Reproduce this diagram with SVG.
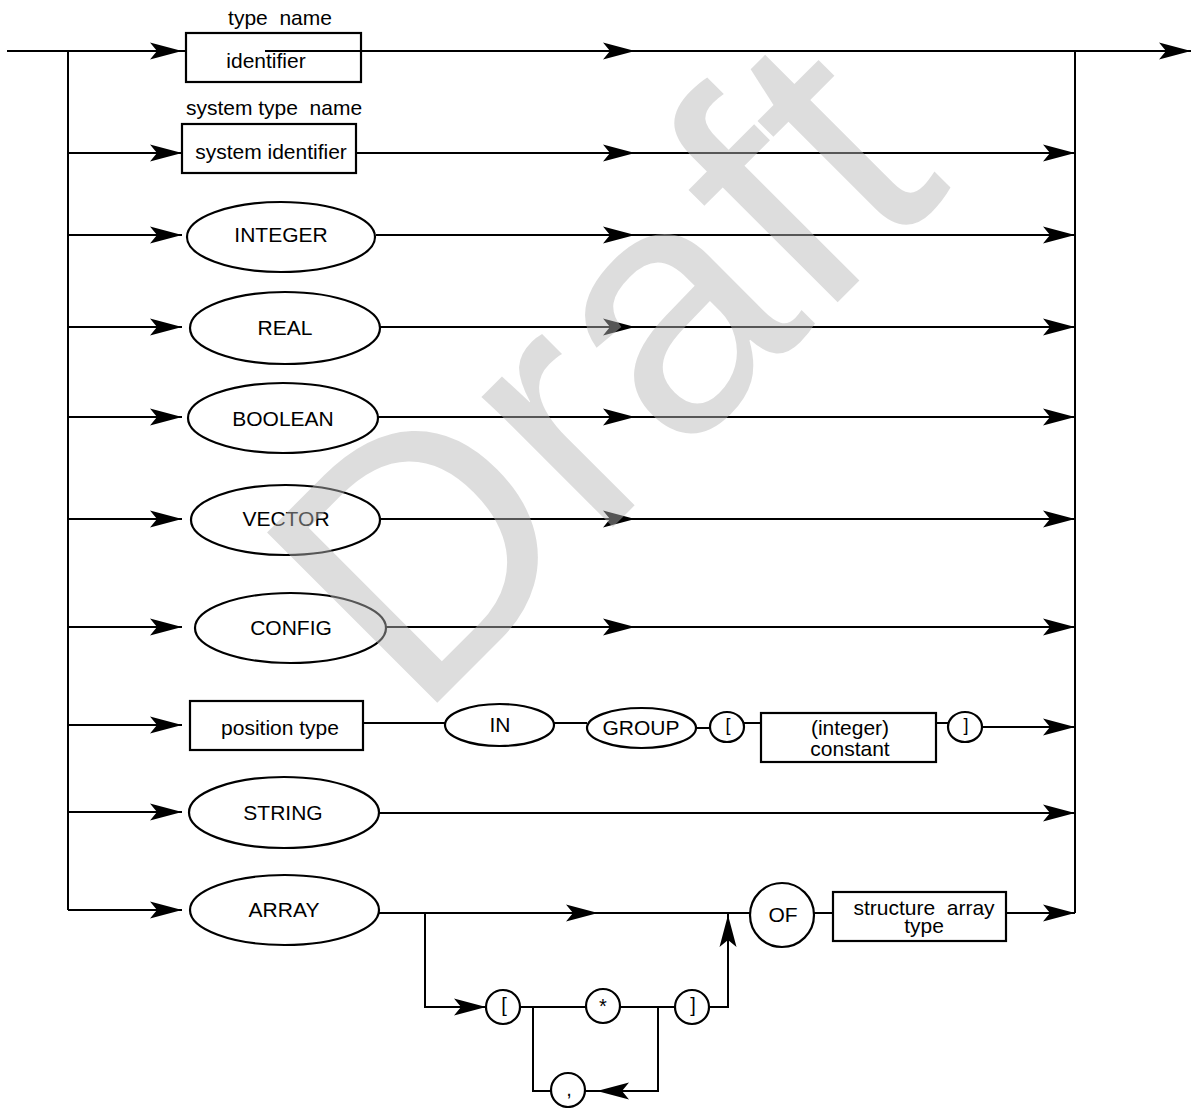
<svg xmlns="http://www.w3.org/2000/svg" width="1191" height="1108" viewBox="0 0 1191 1108">
<style>
.ln{stroke:#000;stroke-width:2;fill:none}
.nd{stroke:#000;stroke-width:2.2;fill:#fff}
.t{font-family:"Liberation Sans",Arial,sans-serif;font-size:21px;text-anchor:middle;fill:#000}
.s{font-family:"Liberation Sans",Arial,sans-serif;font-size:18px;text-anchor:middle;fill:#000}
.wm{font-family:"Liberation Sans",Arial,sans-serif;font-size:350px;fill:#b6b6b6;fill-opacity:0.47}
</style>
<defs>
<path id="ah" d="M0,0 L-32,-8.5 L-25,0 L-32,8.5 Z" fill="#000"/>
</defs>
<rect width="1191" height="1108" fill="#fff"/>
<g id="connectors">
<path class="ln" d="M7,51 H186"/>
<path class="ln" d="M68,51 V910"/>
<path class="ln" d="M1075,51 V913"/>
<path class="ln" d="M68,153 H182 M68,235 H182 M68,327 H182 M68,417 H182 M68,519 H182 M68,627 H182 M68,725 H182 M68,812 H182 M68,910 H182"/>
<path class="ln" d="M265,51 H1191"/>
<path class="ln" d="M356,153 H1075"/>
<path class="ln" d="M376,235 H1075"/>
<path class="ln" d="M380,327 H1075"/>
<path class="ln" d="M378,417 H1075"/>
<path class="ln" d="M380,519 H1075"/>
<path class="ln" d="M386,627 H1075"/>
<path class="ln" d="M363,723 H445 M554,723 H587 M696,728 H710 M744,723 H761 M936,723 H948 M982,727 H1075"/>
<path class="ln" d="M379,813 H1075"/>
<path class="ln" d="M379,913 H750 M814,913 H833 M1006,913 H1075"/>
<path class="ln" d="M425,913 V1007 H486 M520,1007 H586 M620,1007 H675 M709,1007 H728 V913"/>
<path class="ln" d="M533,1007 V1091 H551 M585,1091 H658 V1007"/>
<use href="#ah" transform="translate(182,51)"/>
<use href="#ah" transform="translate(182,153)"/>
<use href="#ah" transform="translate(182,235)"/>
<use href="#ah" transform="translate(182,327)"/>
<use href="#ah" transform="translate(182,417)"/>
<use href="#ah" transform="translate(182,519)"/>
<use href="#ah" transform="translate(182,627)"/>
<use href="#ah" transform="translate(182,725)"/>
<use href="#ah" transform="translate(182,812)"/>
<use href="#ah" transform="translate(182,910)"/>
<use href="#ah" transform="translate(635,51)"/>
<use href="#ah" transform="translate(635,153)"/>
<use href="#ah" transform="translate(635,235)"/>
<use href="#ah" transform="translate(635,327)"/>
<use href="#ah" transform="translate(635,417)"/>
<use href="#ah" transform="translate(635,519)"/>
<use href="#ah" transform="translate(635,627)"/>
<use href="#ah" transform="translate(1191,51)"/>
<use href="#ah" transform="translate(1075,153)"/>
<use href="#ah" transform="translate(1075,235)"/>
<use href="#ah" transform="translate(1075,327)"/>
<use href="#ah" transform="translate(1075,417)"/>
<use href="#ah" transform="translate(1075,519)"/>
<use href="#ah" transform="translate(1075,627)"/>
<use href="#ah" transform="translate(1075,727)"/>
<use href="#ah" transform="translate(1075,813)"/>
<use href="#ah" transform="translate(1075,913)"/>
<use href="#ah" transform="translate(598,913)"/>
<use href="#ah" transform="translate(486,1007)"/>
<use href="#ah" transform="translate(728,915) rotate(-90)"/>
<use href="#ah" transform="translate(597,1091) rotate(180)"/>
</g>
<g id="identifier">
<text class="t" x="280" y="25" xml:space="preserve">type  name</text>
<rect class="nd" x="186" y="33" width="175" height="49" style="fill:none"/>
<text class="t" x="266" y="68">identifier</text>
</g>
<g id="system-identifier">
<text class="t" x="274" y="115" xml:space="preserve">system type  name</text>
<rect class="nd" x="182" y="124" width="174" height="49"/>
<text class="t" x="271" y="159">system identifier</text>
</g>
<g id="integer">
<ellipse class="nd" cx="281" cy="237" rx="94" ry="35"/>
<text class="t" x="281" y="242">INTEGER</text>
</g>
<g id="real">
<ellipse class="nd" cx="285" cy="328" rx="95" ry="36"/>
<text class="t" x="285" y="335">REAL</text>
</g>
<g id="boolean">
<ellipse class="nd" cx="283" cy="418" rx="95" ry="35"/>
<text class="t" x="283" y="426">BOOLEAN</text>
</g>
<g id="vector">
<ellipse class="nd" cx="285.5" cy="520" rx="94.5" ry="35"/>
<text class="t" x="286" y="526">VECTOR</text>
</g>
<g id="config">
<ellipse class="nd" cx="290.5" cy="628" rx="95.5" ry="35"/>
<text class="t" x="291" y="635">CONFIG</text>
</g>
<g id="position-type">
<rect class="nd" x="190" y="701" width="173" height="49"/>
<text class="t" x="280" y="735">position type</text>
</g>
<g id="in">
<ellipse class="nd" cx="499.5" cy="725" rx="54.5" ry="21"/>
<text class="t" x="500" y="732">IN</text>
</g>
<g id="group">
<ellipse class="nd" cx="641.5" cy="728" rx="54.5" ry="20"/>
<text class="t" x="641" y="735">GROUP</text>
</g>
<g id="lbracket1">
<ellipse class="nd" cx="727" cy="727" rx="17" ry="15"/>
<text class="s" x="728" y="731">[</text>
</g>
<g id="integer-constant">
<rect class="nd" x="761" y="713" width="175" height="49"/>
<text class="t" x="850" y="735">(integer)</text>
<text class="t" x="850" y="756">constant</text>
</g>
<g id="rbracket1">
<ellipse class="nd" cx="965" cy="727" rx="17" ry="15"/>
<text class="s" x="966" y="731">]</text>
</g>
<g id="string">
<ellipse class="nd" cx="284" cy="812.5" rx="95" ry="35.5"/>
<text class="t" x="283" y="820">STRING</text>
</g>
<g id="array">
<ellipse class="nd" cx="284.5" cy="910" rx="94.5" ry="35"/>
<text class="t" x="284" y="917">ARRAY</text>
</g>
<g id="of">
<circle class="nd" cx="782" cy="915" r="32"/>
<text class="t" x="783" y="922">OF</text>
</g>
<g id="structure-array-type">
<rect class="nd" x="833" y="892" width="173" height="49"/>
<text class="t" x="924" y="915" xml:space="preserve">structure  array</text>
<text class="t" x="924" y="933">type</text>
</g>
<g id="lbracket2">
<circle class="nd" cx="503" cy="1007" r="17"/>
<text class="t" x="504" y="1012" style="font-size:20px">[</text>
</g>
<g id="star">
<circle class="nd" cx="603" cy="1006" r="17"/>
<text class="t" x="603" y="1013" style="font-size:20px">*</text>
</g>
<g id="rbracket2">
<circle class="nd" cx="692" cy="1007" r="17"/>
<text class="t" x="693" y="1012" style="font-size:20px">]</text>
</g>
<g id="comma">
<circle class="nd" cx="568" cy="1090" r="17"/>
<text class="t" x="569" y="1096" style="font-size:20px">,</text>
</g>
<text class="wm" transform="translate(417,723) rotate(-45)">Draft</text>
</svg>
